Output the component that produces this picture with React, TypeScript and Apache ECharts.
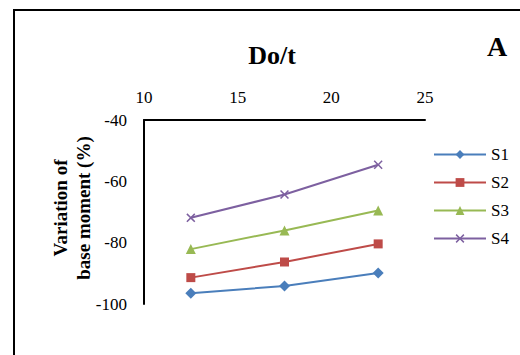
import React, { useEffect, useRef } from "react";
import * as echarts from "echarts";

const xValues = [12.5, 17.5, 22.5];
const s1 = [-96.5, -94.1, -89.9];
const s2 = [-91.4, -86.3, -80.4];
const s3 = [-82.1, -76.0, -69.5];
const s4 = [-71.9, -64.3, -54.6];
const seriesNames = ["S1", "S2", "S3", "S4"];
const colors = ["#4A7EBB", "#BE4B48", "#98B954", "#7D60A0"];

const crossPath =
  "path://M0,1.2 L1.2,0 L5,3.8 L8.8,0 L10,1.2 L6.2,5 L10,8.8 L8.8,10 L5,6.2 L1.2,10 L0,8.8 L3.8,5 Z";

const FONT = "'Liberation Serif', 'Times New Roman', serif";

export default function App() {
  const ref = useRef<HTMLDivElement>(null);
  useEffect(() => {
    if (!ref.current) return;
    const chart = echarts.init(ref.current, undefined, { renderer: "svg" });
    const allData = [s1, s2, s3, s4];
    const symbols = ["diamond", "rect", "triangle", crossPath];
    const sizes = [11, 9, 10, 9];
    chart.setOption({
      animation: false,
      backgroundColor: "#ffffff",
      textStyle: { fontFamily: FONT },
      grid: { left: 144, top: 120, width: 281, height: 184 },
      legend: {
        orient: "vertical",
        left: 433,
        top: 146,
        padding: 0,
        itemWidth: 52,
        itemHeight: 11,
        itemGap: 11,
        textStyle: { fontFamily: FONT, fontSize: 17, color: "#000" },
        data: seriesNames,
      },
      xAxis: {
        type: "value",
        position: "top",
        min: 10,
        max: 25,
        interval: 5,
        axisLine: { show: true, onZero: false, lineStyle: { color: "#000", width: 2 } },
        axisTick: { show: false },
        splitLine: { show: false },
        axisLabel: { fontFamily: FONT, fontSize: 17, color: "#000", margin: 14 },
      },
      yAxis: {
        type: "value",
        min: -100,
        max: -40,
        interval: 20,
        axisLine: { show: true, onZero: false, lineStyle: { color: "#000", width: 2 } },
        axisTick: { show: false },
        splitLine: { show: false },
        axisLabel: { fontFamily: FONT, fontSize: 17, color: "#000", margin: 17 },
      },
      series: allData.map((d, i) => ({
        name: seriesNames[i],
        type: "line",
        data: d.map((v, j) => [xValues[j], v]),
        symbol: symbols[i],
        symbolSize: sizes[i],
        showSymbol: true,
        lineStyle: { color: colors[i], width: 2 },
        itemStyle: { color: colors[i] },
      })),
      graphic: [
        {
          type: "rect",
          shape: { x: 14, y: 10, width: 530, height: 370 },
          style: { fill: "none", stroke: "#000", lineWidth: 2 },
        },
        {
          type: "text",
          x: 272,
          y: 55,
          style: {
            text: "Do/t",
            font: `bold 26px ${FONT}`,
            fill: "#000",
            textAlign: "center",
            textVerticalAlign: "middle",
          },
        },
        {
          type: "text",
          x: 497,
          y: 46,
          style: {
            text: "A",
            font: `bold 28px ${FONT}`,
            fill: "#000",
            textAlign: "center",
            textVerticalAlign: "middle",
          },
        },
        {
          type: "text",
          x: 72,
          y: 208,
          rotation: Math.PI / 2,
          style: {
            text: "Variation of\nbase moment (%)",
            font: `bold 19px ${FONT}`,
            lineHeight: 23,
            fill: "#000",
            textAlign: "center",
            textVerticalAlign: "middle",
          },
        },
      ],
    });
    return () => chart.dispose();
  }, []);
  return (
    <div
      ref={ref}
      style={{ position: "fixed", left: 0, top: 0, width: 520, height: 355 }}
    />
  );
}
